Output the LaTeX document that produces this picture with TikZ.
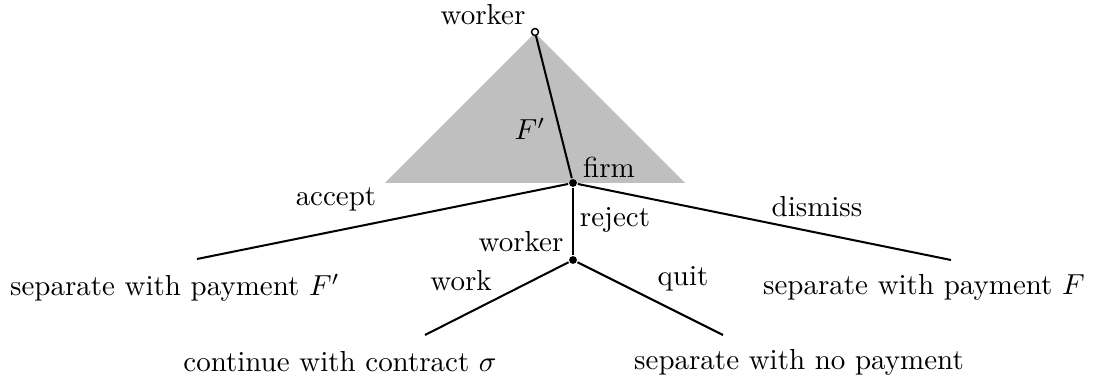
\documentclass[tikz,border=0pt]{standalone}
\begin{document}
\begin{tikzpicture}[x=0.345pt,y=-0.345pt,line width=0.7pt,
  start/.style={circle,draw,fill=white,line width=0.5pt,inner sep=0pt,minimum size=2.4pt},
  dec/.style={circle,fill=black,inner sep=0pt,minimum size=2.7pt},
  lbl/.style={inner sep=0pt}]
\useasboundingbox (0,0) rectangle (1093,383);
% ---------- information set ----------
\fill[black!25] (535,33) -- (685,183) -- (385,183) -- cycle;
% ---------- decision nodes ----------
\node[start] (w0) at (535,32) {};
\node[dec] (f) at (573,183) {};
\node[dec] (w1) at (573,260) {};
\coordinate (endA) at (197,259);
\coordinate (endD) at (951,260);
\coordinate (endW) at (425,335);
\coordinate (endQ) at (723,335);
% ---------- branches ----------
\draw (w0) -- (f);
\draw (f) -- (endA);
\draw (f) -- (endD);
\draw (f) -- (w1);
\draw (w1) -- (endW);
\draw (w1) -- (endQ);
% ---------- player labels ----------
\node[lbl] (w0lab) at (483,15) {worker};
\node[lbl] (flab) at (609,167) {firm};
\node[lbl] (w1lab) at (521,242) {worker};
% ---------- action labels ----------
\node[lbl] (Fp) at (530,129) {$F'$};
\node[lbl] (acc) at (336,199) {accept};
\node[lbl] (dis) at (817,207) {dismiss};
\node[lbl] (rej) at (615,220) {reject};
\node[lbl] (wrk) at (461,281) {work};
\node[lbl] (qut) at (683,279) {quit};
% ---------- outcomes ----------
\node[lbl] (outA) at (175,288) {separate with payment $F'$};
\node[lbl] (outD) at (924,287) {separate with payment $F$};
\node[lbl] (outW) at (340,362) {continue with contract $\sigma$};
\node[lbl] (outQ) at (799,362) {separate with no payment};
\end{tikzpicture}
\end{document}
